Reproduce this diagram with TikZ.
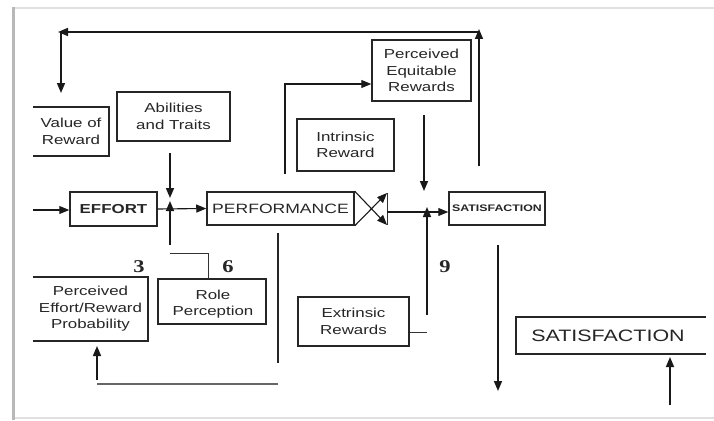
\documentclass[tikz,border=0pt]{standalone}
\usepackage{fontspec}
\setmainfont{Liberation Sans}[FakeStretch=1.3]
\newfontfamily\numfont{Liberation Serif}[FakeStretch=1.25]
\usetikzlibrary{arrows.meta}
\begin{document}
\begin{tikzpicture}[x=1pt,y=-1pt,
  box/.style={draw=black!85, line width=1.5pt, rectangle, align=center, inner sep=0pt,
              font=\fontsize{13}{16.5}\selectfont, text=black!85},
  openbox/.style={rectangle, align=center, inner sep=0pt,
              font=\fontsize{13}{16.5}\selectfont, text=black!85},
  txt/.style={align=center, inner sep=0pt, font=\fontsize{13}{16.5}\selectfont, text=black!85},
  ln/.style={draw=black!85, line width=1.5pt},
  thinln/.style={draw=black!80, line width=1pt},
  arr/.style={draw=black!90, line width=1.6pt, -{Triangle[length=10pt,width=8pt]}},
  sarr/.style={draw=black!90, line width=1.1pt, -{Triangle[length=10pt,width=8pt]}},
  num/.style={inner sep=0pt, font=\numfont\bfseries\fontsize{18}{18}\selectfont, text=black!85}]
\useasboundingbox (0,0) rectangle (714,420);
\fill[white] (0,0) rectangle (714,420);
% page frame
\draw[black!12, line width=1.5pt] (13,8) -- (714,8);
\draw[black!12, line width=1.5pt] (13,418) -- (714,418);
\draw[black!28, line width=3pt] (13,420) -- (13,7);

% boxes
\node[openbox, minimum width=76pt, minimum height=49pt] (valrew) at (71,131.5) {Value of\\Reward};
\draw[ln] (valrew.north west) -- (valrew.north east) -- (valrew.south east) -- (valrew.south west);
\node[box, minimum width=113pt, minimum height=49pt] (abil) at (173.5,116.5) {Abilities\\and Traits};
\node[box, minimum width=87pt, minimum height=34pt, font=\bfseries\fontsize{13}{13}\selectfont] (effort) at (113.5,209) {EFFORT};
\node[box, minimum width=147pt, minimum height=33pt, font=\fontsize{13.5}{13.5}\selectfont] (perf) at (280.5,208.5) {PERFORMANCE};
\node[box, minimum width=99pt, minimum height=61pt] (per) at (421.5,70.5) {Perceived\\Equitable\\Rewards};
\node[box, minimum width=97pt, minimum height=52pt] (intr) at (345.5,145) {Intrinsic\\Reward};
\node[box, minimum width=96pt, minimum height=33pt, font=\bfseries\fontsize{9.5}{9.5}\selectfont] (satS) at (497,208.5) {SATISFACTION};
\node[openbox, minimum width=190pt, minimum height=37pt] (satB) at (611,335.5) {};
\node[txt, font=\fontsize{16.5}{16.5}\selectfont] (satBt) at (608,336) {SATISFACTION};
\draw[ln] (satB.north east) -- (satB.north west) -- (satB.south west) -- (satB.south east);
\node[box, minimum width=111pt, minimum height=49pt] (extr) at (353.5,321.5) {Extrinsic\\Rewards};
\node[box, minimum width=108pt, minimum height=45pt] (role) at (212,301.5) {};
\node[txt] (rolet) at (213,304) {Role\\Perception};
\node[openbox, minimum width=115pt, minimum height=64pt] (pep) at (90.5,309) {Perceived\\Effort/Reward\\Probability};
\draw[ln] (pep.north west) -- (pep.north east) -- (pep.south east) -- (pep.south west);

% numbers
\node[num] (n3) at (139,267) {3};
\node[num] (n6) at (228,267) {6};
\node[num] (n9) at (445,267) {9};

% top feedback loop
\coordinate (tr0) at (479,166);
\coordinate (tr1) at (479,29);
\coordinate (tl0) at (479,32);
\coordinate (tl1) at (58,32);
\coordinate (vl0) at (61,33);
\coordinate (vl1) at (61,93);
\draw[arr] (tr0) -- (tr1);
\draw[arr] (tl0) -- (tl1);
\draw[arr] (vl0) -- (vl1);

% abilities down to junction
\coordinate (ab0) at (170,153);
\coordinate (ab1) at (170,198);
\draw[arr] (ab0) -- (ab1);

% into effort
\coordinate (ein) at (33,210);
\draw[sarr] (ein) -- (effort.west |- ein);

% effort to performance
\draw[sarr] (effort.east) -- (perf.west);

% role perception up
\coordinate (rp) at (208,279);
\coordinate (rc) at (170,253);
\coordinate (ru0) at (170,245);
\coordinate (ru1) at (170,201);
\draw[thinln] (rp) |- (rc);
\draw[arr] (ru0) -- (ru1);

% performance X
\coordinate (xa) at (387,193);
\coordinate (xb) at (387,225);
\coordinate (xm) at (387,212);
\draw[thinln] (xa) -- (xb);
\draw[sarr] (perf.south east) -- (xa);
\draw[sarr] (perf.north east) -- (xb);
\draw[sarr] (xm) -- (satS.west |- xm);

% equitable rewards down
\coordinate (pd0) at (424,115);
\coordinate (pd1) at (424,191);
\draw[arr] (pd0) -- (pd1);

% extrinsic rewards up
\coordinate (ex1) at (427,332);
\coordinate (eu0) at (427,315);
\coordinate (eu1) at (427,207);
\draw[thinln] (extr.east |- ex1) -- (ex1);
\draw[arr] (eu0) -- (eu1);

% bracket to perceived equitable rewards
\coordinate (br0) at (285,174);
\coordinate (br1) at (285,84);
\draw[sarr] (br0) -- (br1) -- (per.west |- br1);

% below performance, feedback to effort/reward probability
\coordinate (pv0) at (278,233);
\coordinate (pv1) at (278,363);
\draw[ln] (pv0) -- (pv1);
\coordinate (bl0) at (278,384);
\coordinate (bl1) at (97,384);
\draw[ln, draw=black!60] (bl0) -- (bl1);
\coordinate (bu0) at (97,380);
\coordinate (bu1) at (97,346);
\draw[arr] (bu0) -- (bu1);
% satisfaction down
\coordinate (sd0) at (498,245);
\coordinate (sd1) at (498,391);
\draw[arr] (sd0) -- (sd1);

% bottom right up arrow
\coordinate (bu2) at (670,405);
\coordinate (bu3) at (670,357);
\draw[arr] (bu2) -- (bu3);
\end{tikzpicture}
\end{document}
